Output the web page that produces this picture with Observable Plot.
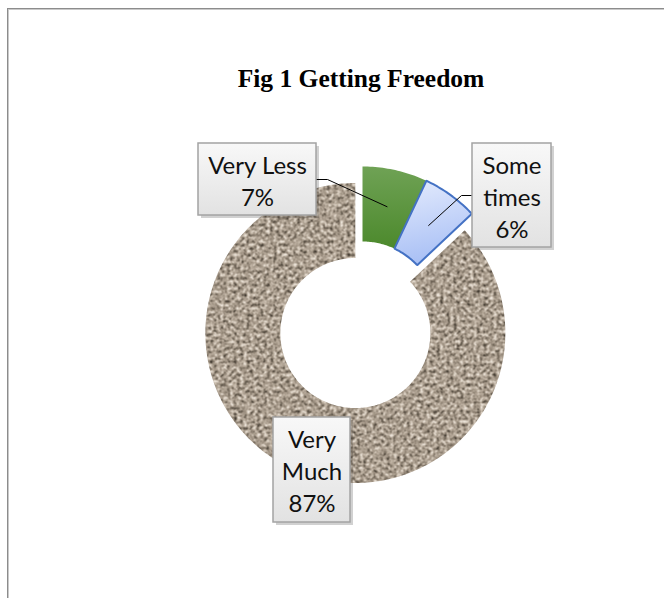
<!DOCTYPE html>
<html>
<head>
<meta charset="utf-8">
<script src="https://cdn.jsdelivr.net/npm/d3@7"></script>
<script src="https://cdn.jsdelivr.net/npm/@observablehq/plot@0.6"></script>
<style>
  body { margin: 0; background: #fff; }
  #page { position: relative; width: 664px; height: 598px; overflow: hidden; background: #fff; }
  #frame { position: absolute; left: 7px; top: 8px; width: 720px; height: 720px;
           border-left: 1px solid #8c8c8c; border-top: 1px solid #8c8c8c;
           box-shadow: inset 1px 1px 0 #c9c9c9; }
  #title { position: absolute; left: 0; top: 66px; width: 722px; text-align: center;
           font: bold 25.5px/25px "Liberation Serif", "Times New Roman", serif; color: #000; }
  #chart { position: absolute; left: 0; top: 110px; }
</style>
</head>
<body>
<svg width="0" height="0" style="position:absolute">
  <defs>
    <linearGradient id="gGreen" x1="0" y1="0" x2="0" y2="1">
      <stop offset="0" stop-color="#6fa255"/>
      <stop offset="1" stop-color="#4c892c"/>
    </linearGradient>
    <linearGradient id="gBlue" x1="0" y1="0" x2="0.2" y2="1">
      <stop offset="0" stop-color="#e4ebfd"/>
      <stop offset="1" stop-color="#a9c0f5"/>
    </linearGradient>
    <linearGradient id="gBox" x1="0" y1="0" x2="0" y2="1">
      <stop offset="0" stop-color="#f8f8f8"/>
      <stop offset="1" stop-color="#e2e2e2"/>
    </linearGradient>
    <filter id="noise" filterUnits="userSpaceOnUse" x="0" y="0" width="664" height="488" color-interpolation-filters="sRGB">
      <feTurbulence type="fractalNoise" baseFrequency="0.3" numOctaves="2" seed="11" result="n"/>
      <feColorMatrix in="n" type="matrix" values="1 0 0 0 0  1 0 0 0 0  1 0 0 0 0  0 0 0 0 1" result="g"/>
      <feComponentTransfer in="g">
        <feFuncR type="table" tableValues="0.18 0.22 0.28 0.42 0.58 0.67 0.76 0.87 0.93 0.95 0.96"/>
        <feFuncG type="table" tableValues="0.15 0.19 0.25 0.38 0.53 0.62 0.71 0.83 0.90 0.92 0.93"/>
        <feFuncB type="table" tableValues="0.13 0.16 0.21 0.33 0.47 0.56 0.65 0.78 0.86 0.88 0.90"/>
      </feComponentTransfer>
    </filter>
    <pattern id="granite" patternUnits="userSpaceOnUse" x="0" y="0" width="664" height="488">
      <rect width="664" height="488" fill="#a59889" filter="url(#noise)"/>
    </pattern>
  </defs>
</svg>
<div id="page">
  <div id="frame"></div>
  <div id="title">Fig 1 Getting Freedom</div>
  <div id="chart"></div>
</div>
<script>
// ---- data ----
const categories = ["Very Less", "Some times", "Very Much"];
const labelNames = ["Very Less", "Some\ntimes", "Very\nMuch"];
const percents = [7, 6, 87];

// ---- layout / style (not data) ----
const W = 664, H = 488;
const CX = 362, CY = 206;          // ring centre inside the svg
const R_OUT = 150, R_IN = 75;
const EXPLODE = [0, 0, 18];
const sliceStyle = [
  {fill: "url(#gGreen)", stroke: "none", strokeWidth: 0},
  {fill: "url(#gBlue)", stroke: "#4472c4", strokeWidth: 2},
  {fill: "url(#granite)", stroke: "none", strokeWidth: 0}
];
const boxLayout = [
  {dx: -105, dy: -137, w: 118, h: 72, side: "right"},
  {dx: 149.5, dy: -121, w: 79, h: 104, side: "left"},
  {dx: -50.5, dy: 153.5, w: 77, h: 105, side: null}
];
const ELBOW = 11;

// ---- geometry from data ----
const arcs = d3.pie().sort(null).value(d => d)(percents);
const sliceRows = [];
const centroids = [];
arcs.forEach((a, i) => {
  const mid = (a.startAngle + a.endAngle) / 2;
  const ox = EXPLODE[i] * Math.sin(mid), oy = -EXPLODE[i] * Math.cos(mid);
  const n = Math.max(2, Math.ceil((a.endAngle - a.startAngle) / (Math.PI / 180)));
  for (let k = 0; k <= n; k++) {
    const t = a.startAngle + (a.endAngle - a.startAngle) * k / n;
    sliceRows.push({i, cat: categories[i], x: ox + R_OUT * Math.sin(t), y: oy - R_OUT * Math.cos(t)});
  }
  for (let k = n; k >= 0; k--) {
    const t = a.startAngle + (a.endAngle - a.startAngle) * k / n;
    sliceRows.push({i, cat: categories[i], x: ox + R_IN * Math.sin(t), y: oy - R_IN * Math.cos(t)});
  }
  const rm = (R_OUT + R_IN) / 2;
  centroids.push({x: ox + rm * Math.sin(mid), y: oy - rm * Math.cos(mid)});
});

const boxes = categories.map((c, i) => {
  const b = boxLayout[i];
  return {
    cat: c,
    label: labelNames[i] + "\n" + percents[i] + "%",
    x: b.dx, y: b.dy,
    x1: b.dx - b.w / 2, x2: b.dx + b.w / 2,
    y1: b.dy - b.h / 2, y2: b.dy + b.h / 2
  };
});

const leaderRows = [];
boxLayout.forEach((b, i) => {
  if (!b.side) return;
  const ex = b.side === "right" ? b.dx + b.w / 2 : b.dx - b.w / 2;
  const sx = b.side === "right" ? ELBOW : -ELBOW;
  leaderRows.push({i, x: ex, y: b.dy});
  leaderRows.push({i, x: ex + sx, y: b.dy});
  leaderRows.push({i, x: centroids[i].x, y: centroids[i].y});
});

const order = [2, 0, 1];
const sliceMarks = order.map(i => Plot.line(sliceRows.filter(r => r.i === i), {
  x: "x", y: "y", curve: "linear-closed",
  fill: sliceStyle[i].fill, stroke: sliceStyle[i].stroke, strokeWidth: sliceStyle[i].strokeWidth,
  strokeLinejoin: "miter"
}));

const chart = Plot.plot({
  width: W, height: H, margin: 0,
  x: {domain: [-CX, W - CX], range: [0, W], axis: null},
  y: {domain: [-CY, H - CY], range: [0, H], axis: null},
  style: {background: "transparent", overflow: "visible"},
  marks: [
    ...sliceMarks,
    Plot.line(leaderRows, {x: "x", y: "y", z: "i", stroke: "#000", strokeWidth: 1}),
    Plot.rect(boxes, {x1: "x1", x2: "x2", y1: "y1", y2: "y2", fill: "#000", fillOpacity: 0.18, dx: 3, dy: 3}),
    Plot.rect(boxes, {x1: "x1", x2: "x2", y1: "y1", y2: "y2", fill: "url(#gBox)", stroke: "#a3a3a3", strokeWidth: 1.5}),
    Plot.text(boxes, {x: "x", y: "y", text: "label", fontSize: 24, fontFamily: "Lato", lineHeight: 1.333, fill: "#111"})
  ]
});
document.getElementById("chart").appendChild(chart);
</script>
</body>
</html>
